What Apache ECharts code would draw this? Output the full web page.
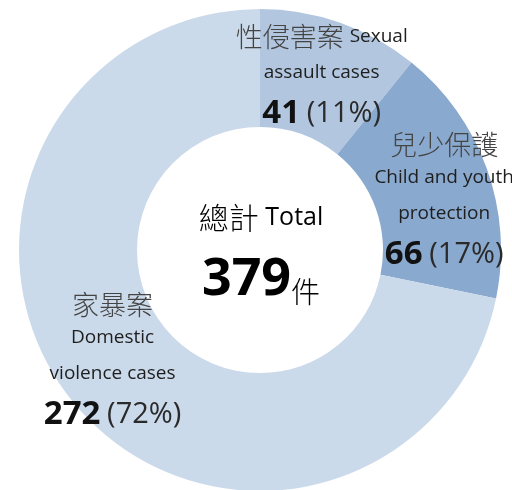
<!DOCTYPE html>
<html>
<head>
<meta charset="utf-8">
<script src="https://cdn.jsdelivr.net/npm/echarts@6/dist/echarts.min.js"></script>
<style>
  html, body { margin: 0; padding: 0; background: #ffffff; }
  #chart { width: 512px; height: 490px; }
</style>
</head>
<body>
<div id="chart"></div>
<script>
// Case categories (Chinese name, English name lines) and counts
const categoriesZh = ['性侵害案', '兒少保護', '家暴案'];
const categoriesEn = [['Sexual', 'assault cases'], ['Child and youth', 'protection'], ['Domestic', 'violence cases']];
const caseCounts = [41, 66, 272];
const totalTextZh = '總計';
const totalTextEn = 'Total';
const unitText = '件';

const sliceColors = ['#b2c7df', '#89a9ce', '#cbdaea'];

const CJK = '"Noto Sans CJK TC", sans-serif';
const LATIN = '"Open Sans", "Noto Sans", sans-serif';

const richStyles = {
  zh:  { fontFamily: CJK, fontSize: 27, fontWeight: 300, color: '#444444', lineHeight: 30 },
  en:  { fontFamily: LATIN, fontSize: 19, color: '#1e1e1e', lineHeight: 36 },
  num: { fontFamily: LATIN, fontSize: 33, fontWeight: 'bold', color: '#111111', lineHeight: 46 },
  pct: { fontFamily: LATIN, fontSize: 29, color: '#2a2a2a', lineHeight: 46 }
};

// Per-slice label padding to nudge each text block
const labelPadding = [[4, 0, 0, 0], [32, 0, 0, 20], [0, 8, 6, 0]];

function sliceLabel(i) {
  return function (p) {
    const en = categoriesEn[i];
    const tail = '{num|' + p.value + '}  {pct|(' + Math.round(p.percent) + '%)}';
    if (i === 0) {
      return '{zh|' + categoriesZh[i] + ' }{en|' + en[0] + '}\n{en|' + en[1] + '}\n' + tail;
    }
    return '{zh|' + categoriesZh[i] + '}\n{en|' + en[0] + '}\n{en|' + en[1] + '}\n' + tail;
  };
}

const pieData = caseCounts.map((v, i) => ({
  name: categoriesZh[i],
  value: v,
  itemStyle: { color: sliceColors[i] },
  label: { formatter: sliceLabel(i), padding: labelPadding[i] }
}));

const total = caseCounts.reduce((a, b) => a + b, 0);

const chart = echarts.init(document.getElementById('chart'), null, { renderer: 'canvas' });
chart.setOption({
  animation: false,
  backgroundColor: '#ffffff',
  series: [{
    type: 'pie',
    center: [260, 250],
    radius: [123, 241],
    startAngle: 90,
    clockwise: true,
    percentPrecision: 0,
    avoidLabelOverlap: false,
    itemStyle: { borderWidth: 0 },
    label: {
      show: true,
      position: 'inside',
      align: 'center',
      rich: richStyles
    },
    labelLine: { show: false },
    emphasis: { disabled: true },
    data: pieData
  }],
  graphic: [{
    type: 'text',
    x: 261,
    y: 248,
    style: {
      x: 0, y: 0,
      align: 'center',
      verticalAlign: 'middle',
      text: '{zh|' + totalTextZh + ' }{en|' + totalTextEn + '}\n{big|' + total + '}{zh2|' + unitText + '}',
      rich: {
        zh:  { fontFamily: CJK, fontSize: 30, fontWeight: 300, color: '#333333', lineHeight: 56 },
        en:  { fontFamily: LATIN, fontSize: 25, color: '#1e1e1e', lineHeight: 56 },
        big: { fontFamily: LATIN, fontSize: 52, fontWeight: 'bold', color: '#111111', lineHeight: 60, verticalAlign: 'bottom' },
        zh2: { fontFamily: CJK, fontSize: 29, fontWeight: 300, color: '#333333', lineHeight: 60, verticalAlign: 'bottom' }
      }
    }
  }]
});
</script>
</body>
</html>
